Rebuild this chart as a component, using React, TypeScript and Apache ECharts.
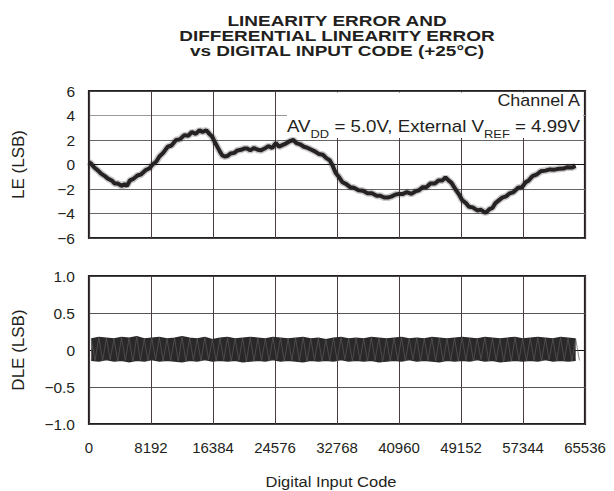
import React, { useEffect, useRef } from "react";
import * as echarts from "echarts";

const titleLines = ["LINEARITY ERROR AND", "DIFFERENTIAL LINEARITY ERROR", "vs DIGITAL INPUT CODE (+25°C)"];
const xTicks = [0, 8192, 16384, 24576, 32768, 40960, 49152, 57344, 65536];
const leTicks = [-6, -4, -2, 0, 2, 4, 6];
const dleTicks = [-1, -0.5, 0, 0.5, 1];

const leCodes = [
  0, 300, 700, 1200, 1600, 2100, 2500, 3000, 3400, 3800, 4300, 4700, 5000, 5400, 5800, 6400, 6900, 7500, 8000, 8400,
  8900, 9300, 9800, 10400, 10900, 11500, 12000, 12600, 13100, 13600, 14100, 14600, 15000, 15500, 15900, 16300, 16600,
  17000, 17300, 17600, 17900, 18300, 18700, 19200, 19600, 20100, 20500, 20900, 21300, 21800, 22300, 22700, 23200,
  23700, 24200, 24700, 25100, 25600, 26000, 26500, 27000, 27400, 27900, 28400, 28900, 29400, 29900, 30400, 30900,
  31400, 31800, 32200, 32600, 33000, 33500, 34000, 34500, 35000, 35600, 36200, 36800, 37400, 38000, 38500, 39000,
  39500, 40000, 40500, 41000, 41500, 42000, 42600, 43100, 43600, 44100, 44600, 45100, 45700, 46200, 46700, 47100,
  47500, 47900, 48400, 48900, 49300, 49800, 50200, 50700, 51300, 51800, 52400, 52900, 53300, 53700, 54100, 54600,
  55100, 55600, 56100, 56700, 57200, 57700, 58100, 58600, 59200, 59700, 60300, 60900, 61500, 62100, 62700, 63200,
  63800, 64300,
];
const leValues = [
  0.2, 0.05, -0.25, -0.5, -0.75, -0.95, -1.15, -1.3, -1.55, -1.55, -1.75, -1.6, -1.75, -1.3, -1.2, -0.9, -0.8, -0.45, -0.3, 0.0,
  0.25, 0.65, 0.95, 1.45, 1.55, 2.0, 2.05, 2.4, 2.35, 2.65, 2.5, 2.8, 2.65, 2.8, 2.5, 2.25, 1.85,
  1.4, 1.05, 0.75, 0.65, 0.7, 0.9, 0.95, 1.15, 1.2, 1.3, 1.3, 1.15, 1.35, 1.2, 1.15, 1.3,
  1.5, 1.35, 1.75, 1.45, 1.6, 1.7, 1.9, 2.0, 1.75, 1.65, 1.45, 1.35, 1.2, 1.05, 0.85, 0.8,
  0.5, 0.35, -0.1, -0.7, -1.0, -1.45, -1.6, -1.85, -1.9, -2.1, -2.15, -2.35, -2.35, -2.55, -2.55, -2.7,
  -2.7, -2.6, -2.45, -2.4, -2.4, -2.25, -2.4, -2.2, -2.1, -1.85, -1.85, -1.55, -1.55, -1.3, -1.3, -1.05,
  -1.3, -1.5, -2.0, -2.45, -2.9, -3.15, -3.45, -3.5, -3.75, -3.7, -3.95, -3.65, -3.55, -3.15, -2.95, -2.7,
  -2.6, -2.35, -2.25, -1.9, -1.85, -1.45, -1.3, -0.95, -0.8, -0.55, -0.5, -0.4, -0.42, -0.35, -0.33, -0.22,
  -0.25, -0.12,
];

const dleCodes = [
  300, 1300, 2300, 3300, 4300, 5300, 6300, 7300, 8300, 9300, 10300, 11300, 12300, 13300, 14300, 15300, 16300,
  17300, 18300, 19300, 20300, 21300, 22300, 23300, 24300, 25300, 26300, 27300, 28300, 29300, 30300, 31300, 32300,
  33300, 34300, 35300, 36300, 37300, 38300, 39300, 40300, 41300, 42300, 43300, 44300, 45300, 46300, 47300, 48300,
  49300, 50300, 51300, 52300, 53300, 54300, 55300, 56300, 57300, 58300, 59300, 60300, 61300, 62300, 63300, 64300,
];
const dleUpper = [
  0.15, 0.17, 0.16, 0.15, 0.17, 0.16, 0.18, 0.15, 0.16, 0.17, 0.15, 0.16, 0.18, 0.16, 0.15, 0.17, 0.14,
  0.16, 0.17, 0.15, 0.16, 0.17, 0.16, 0.15, 0.17, 0.16, 0.15, 0.16, 0.17, 0.15, 0.16, 0.14, 0.16,
  0.17, 0.15, 0.16, 0.15, 0.17, 0.16, 0.15, 0.16, 0.17, 0.15, 0.16, 0.15, 0.17, 0.16, 0.15, 0.16,
  0.17, 0.16, 0.15, 0.17, 0.16, 0.15, 0.16, 0.17, 0.15, 0.16, 0.17, 0.16, 0.15, 0.17, 0.16, 0.15,
];
const dleLower = [
  -0.14, -0.15, -0.13, -0.15, -0.14, -0.16, -0.14, -0.15, -0.13, -0.15, -0.14, -0.15, -0.16, -0.14, -0.15, -0.13, -0.15,
  -0.14, -0.15, -0.14, -0.16, -0.15, -0.14, -0.15, -0.13, -0.15, -0.14, -0.15, -0.16, -0.14, -0.15, -0.14, -0.15,
  -0.13, -0.15, -0.14, -0.15, -0.14, -0.16, -0.15, -0.14, -0.15, -0.13, -0.15, -0.14, -0.15, -0.16, -0.14, -0.15,
  -0.14, -0.15, -0.13, -0.15, -0.14, -0.16, -0.15, -0.14, -0.15, -0.14, -0.15, -0.13, -0.15, -0.14, -0.15, -0.14,
];

const FONT = "'Liberation Sans', Arial, Helvetica, sans-serif";
const INK = "#231f20";

const fmt = (v: number) => {
  const s = Number.isInteger(v) && Math.abs(v) >= 2 ? String(Math.abs(v)) : v === 0 ? "0" : Math.abs(v).toFixed(1);
  return v < 0 ? "\u2212" + s : s;
};

export default function App() {
  const ref = useRef<HTMLDivElement>(null);
  useEffect(() => {
    if (!ref.current) return;
    const chart = echarts.init(ref.current, undefined, { renderer: "svg" });
    const leData = leCodes.map((c, i) => [c, leValues[i]]);
    const upData = dleCodes.map((c, i) => [c, dleUpper[i]]);
    const loData = dleCodes.map((c, i) => [c, dleLower[i]]);
    const zig: number[][] = [];
    dleCodes.forEach((c, i) => {
      zig.push([c, dleUpper[i]]);
      zig.push([c + 500, dleLower[i]]);
    });

    const gridL = 89;
    const gridW = 496;
    const xAxisBase = {
      type: "value",
      min: 0,
      max: 65536,
      interval: 8192,
      axisLine: { show: false },
      axisTick: { show: false },
      splitLine: { show: true, lineStyle: { color: "#4a3b3d", width: 1 } },
    };
    const SX = 1.15;

    chart.setOption({
      animation: false,
      backgroundColor: "#ffffff",
      grid: [
        { left: gridL, top: 91, width: gridW, height: 147, show: true, borderColor: INK, borderWidth: 2.2, backgroundColor: "transparent" },
        { left: gridL, top: 276, width: gridW, height: 148, show: true, borderColor: INK, borderWidth: 2.2, backgroundColor: "transparent" },
      ],
      xAxis: [
        { ...xAxisBase, gridIndex: 0, axisLabel: { show: false } },
        {
          ...xAxisBase,
          gridIndex: 1,
          axisLabel: {
            show: true,
            fontSize: 15,
            fontFamily: FONT,
            color: INK,
            margin: 16,
            formatter: (v: number) => (xTicks.includes(v) ? String(v) : ""),
          },
        },
      ],
      yAxis: [
        {
          type: "value",
          gridIndex: 0,
          min: -6,
          max: 6,
          interval: 2,
          axisLine: { show: false },
          axisTick: { show: false },
          axisLabel: { fontSize: 15.5, fontFamily: FONT, color: INK, margin: 14, formatter: (v: number) => (leTicks.includes(v) ? fmt(v) : "") },
          splitLine: { show: true, lineStyle: { color: ["#444", "#666", "#666", "#111", "#666", "#999", "#444"], width: 1.2 } },
          name: "LE (LSB)",
          nameLocation: "middle",
          nameGap: 62,
          nameTextStyle: { fontSize: 17, fontFamily: FONT, color: INK },
        },
        {
          type: "value",
          gridIndex: 1,
          min: -1,
          max: 1,
          interval: 0.5,
          axisLine: { show: false },
          axisTick: { show: false },
          axisLabel: { fontSize: 15.5, fontFamily: FONT, color: INK, margin: 14, formatter: (v: number) => (dleTicks.includes(v) ? fmt(v) : "") },
          splitLine: { show: true, lineStyle: { color: ["#444", "#555", "#111", "#555", "#444"], width: 1.2 } },
          name: "DLE (LSB)",
          nameLocation: "middle",
          nameGap: 62,
          nameTextStyle: { fontSize: 17, fontFamily: FONT, color: INK },
        },
      ],
      series: [
        {
          type: "line",
          xAxisIndex: 0,
          yAxisIndex: 0,
          data: leData,
          showSymbol: false,
          lineStyle: { color: "#262224", width: 7, opacity: 0.25 },
          z: 4,
        },
        {
          type: "line",
          xAxisIndex: 0,
          yAxisIndex: 0,
          data: leData,
          showSymbol: false,
          lineStyle: { color: "#262224", width: 4 },
          z: 5,
        },
        {
          type: "line",
          xAxisIndex: 1,
          yAxisIndex: 1,
          data: upData,
          showSymbol: false,
          lineStyle: { color: "#2a2a2a", width: 1.5 },
          areaStyle: { color: "#2b2829", opacity: 1, origin: 0 },
          z: 5,
        },
        {
          type: "line",
          xAxisIndex: 1,
          yAxisIndex: 1,
          data: loData,
          showSymbol: false,
          lineStyle: { color: "#2a2a2a", width: 1.5 },
          areaStyle: { color: "#2b2829", opacity: 1, origin: 0 },
          z: 5,
        },
        {
          type: "line",
          xAxisIndex: 1,
          yAxisIndex: 1,
          data: zig,
          showSymbol: false,
          lineStyle: { color: "#5a5a5a", width: 0.7 },
          z: 6,
        },
      ],
      graphic: [
        ...titleLines.map((t, i) => ({
          type: "text",
          x: 337,
          y: 21 + i * 15,
          scaleX: SX,
          scaleY: 0.92,
          z: 10,
          style: {
            text: t,
            fontSize: 16.5,
            fontWeight: "bold",
            fontFamily: FONT,
            fill: INK,
            textAlign: "center",
            textVerticalAlign: "middle",
          },
        })),
        {
          type: "rect",
          z: 1,
          shape: { x: 287, y: 92.5, width: 296, height: 45.5 },
          style: { fill: "#ffffff" },
        },
        {
          type: "text",
          x: 580,
          y: 101,
          scaleX: 1.12,
          z: 10,
          style: { text: "Channel A", fontSize: 16, fontFamily: FONT, fill: INK, textAlign: "right", textVerticalAlign: "middle" },
        },
        {
          type: "text",
          x: 580,
          y: 118,
          scaleX: 1.17,
          z: 10,
          style: {
            text: "{n|AV}{s|DD}{n| = 5.0V, External V}{s|REF}{n| = 4.99V}",
            textAlign: "right",
            fill: INK,
            rich: {
              n: { fontSize: 16, fontFamily: FONT, fill: INK, lineHeight: 18, verticalAlign: "top" },
              s: { fontSize: 11, fontFamily: FONT, fill: INK, lineHeight: 22, verticalAlign: "bottom" },
            },
          },
        },
        {
          type: "text",
          x: 331,
          y: 482,
          z: 10,
          scaleX: 1.1,
          style: { text: "Digital Input Code", fontSize: 15, fontFamily: FONT, fill: INK, textAlign: "center", textVerticalAlign: "middle" },
        },
      ],
    });
    return () => chart.dispose();
  }, []);
  return <div ref={ref} style={{ position: "absolute", left: 0, top: 0, width: 614, height: 491 }} />;
}
